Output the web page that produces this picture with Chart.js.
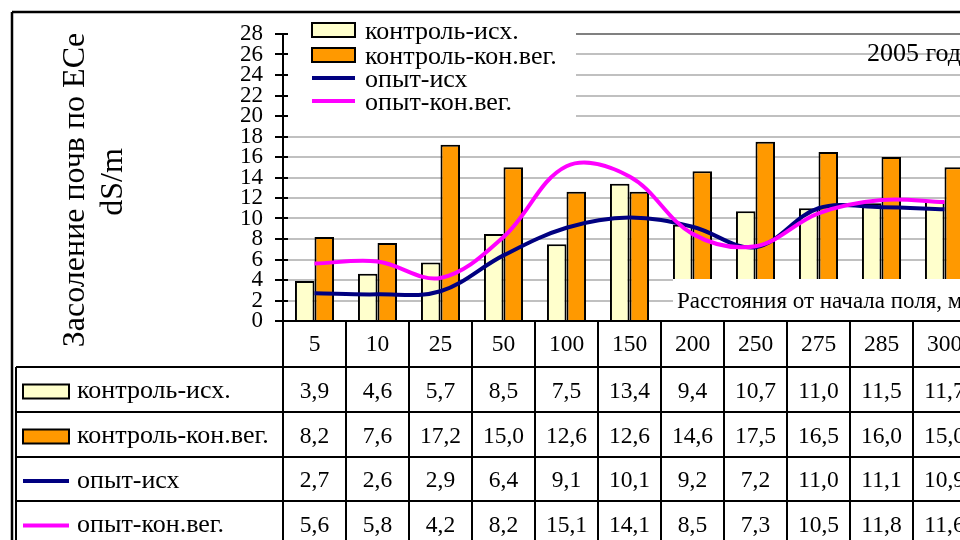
<!DOCTYPE html>
<html><head><meta charset="utf-8">
<script src="https://cdn.jsdelivr.net/npm/chart.js@4.4.1/dist/chart.umd.min.js"></script>
<style>
html,body{margin:0;padding:0;width:960px;height:540px;overflow:hidden;background:#fff;}
#wrap{position:absolute;left:0;top:0;width:1000px;height:540px;}
canvas{display:block;}
</style></head><body>
<div id="wrap"><canvas id="c" width="1000" height="540"></canvas></div>
<script>
// ---- data ----
const categories = ['5','10','25','50','100','150','200','250','275','285','300'];
const controlInitial = [3.9, 4.6, 5.7, 8.5, 7.5, 13.4, 9.4, 10.7, 11.0, 11.5, 11.7];
const controlEnd     = [8.2, 7.6, 17.2, 15.0, 12.6, 12.6, 14.6, 17.5, 16.5, 16.0, 15.0];
const trialInitial   = [2.7, 2.6, 2.9, 6.4, 9.1, 10.1, 9.2, 7.2, 11.0, 11.1, 10.9];
const trialEnd       = [5.6, 5.8, 4.2, 8.2, 15.1, 14.1, 8.5, 7.3, 10.5, 11.8, 11.6];
const seriesLabels = ['контроль-исх.', 'контроль-кон.вег.', 'опыт-исх', 'опыт-кон.вег.'];
const yTickValues = [0, 2, 4, 6, 8, 10, 12, 14, 16, 18, 20, 22, 24, 26, 28];
const yAxisTitle = ['Засоление почв по ECe', 'dS/m'];
const xAxisTitle = 'Расстояния от начала поля, м';
const yearNote = '2005 год';

const FONT = '"Liberation Serif", "Times New Roman", serif';
const COL_LIGHT = '#FFFFCC', COL_ORANGE = '#FF9900', COL_NAVY = '#000080', COL_MAGENTA = '#FF00FF';

const tableSeries = [
  {label: seriesLabels[0], data: controlInitial, kind: 'bar', color: COL_LIGHT},
  {label: seriesLabels[1], data: controlEnd, kind: 'bar', color: COL_ORANGE},
  {label: seriesLabels[2], data: trialInitial, kind: 'line', color: COL_NAVY},
  {label: seriesLabels[3], data: trialEnd, kind: 'line', color: COL_MAGENTA}
];

function seg(ctx, x1, y1, x2, y2) { ctx.beginPath(); ctx.moveTo(x1, y1); ctx.lineTo(x2, y2); ctx.stroke(); }
function swatch(ctx, s, x0, x1, cy) {
  if (s.kind === 'bar') {
    ctx.fillStyle = s.color; ctx.fillRect(x0, cy - 7, x1 - x0, 14);
    ctx.strokeStyle = '#000'; ctx.lineWidth = 2; ctx.strokeRect(x0, cy - 7, x1 - x0, 14);
  } else {
    ctx.strokeStyle = s.color; ctx.lineWidth = 4; seg(ctx, x0, cy, x1, cy);
  }
}
const fmt = v => v.toFixed(1).replace('.', ',');

const extras = {
  id: 'excelExtras',
  afterDatasetsDraw(chart) {
    const ctx = chart.ctx;
    ctx.save();
    ctx.fillStyle = '#fff';
    ctx.fillRect(285, 14, 291, 112);   // legend background
    ctx.fillRect(673, 279, 330, 41);   // axis title background
    ctx.restore();
  },
  afterDraw(chart) {
    const ctx = chart.ctx, x = chart.scales.x, y = chart.scales.y;
    const n = categories.length, colW = (x.right - x.left) / n;
    const top = y.bottom;
    ctx.save();
    ctx.lineCap = 'butt';

    // legend
    ctx.font = '26px ' + FONT; ctx.textAlign = 'left'; ctx.textBaseline = 'middle';
    const legY = [30, 55, 78, 101];
    tableSeries.forEach((s, i) => {
      swatch(ctx, s, 312, 355, legY[i]);
      ctx.fillStyle = '#000'; ctx.fillText(s.label, 365, legY[i] + 2);
    });

    // year note
    ctx.font = '26px ' + FONT; ctx.fillStyle = '#000'; ctx.fillText(yearNote, 867, 54);
    // x axis title
    ctx.font = '23px ' + FONT; ctx.fillText(xAxisTitle, 677, 302);

    // y tick crosses & axis line
    ctx.strokeStyle = '#000'; ctx.lineWidth = 2;
    yTickValues.forEach(v => { const py = Math.round(y.getPixelForValue(v)); seg(ctx, x.left - 8, py, x.left + 5, py); });
    seg(ctx, x.left, y.top - 1, x.left, top);
    seg(ctx, x.left - 8, top, 1000, top);

    // data table
    const rowEdges = [top, top + 46, top + 91, top + 136, top + 180, top + 225];
    for (let r = 1; r < rowEdges.length; r++) seg(ctx, 16, rowEdges[r], 1000, rowEdges[r]);
    for (let i = 0; i <= n; i++) { const px = Math.round(x.left + i * colW); seg(ctx, px, top, px, 540); }
    seg(ctx, 16, rowEdges[1], 16, 540);

    ctx.fillStyle = '#000'; ctx.textAlign = 'center'; ctx.textBaseline = 'middle';
    ctx.font = '23.5px ' + FONT;
    categories.forEach((c, i) => ctx.fillText(c, x.getPixelForValue(i), (rowEdges[0] + rowEdges[1]) / 2 + 1));
    tableSeries.forEach((s, r) => {
      const cy = (rowEdges[r + 1] + rowEdges[r + 2]) / 2 + 2;
      ctx.font = '23.5px ' + FONT;
      s.data.forEach((v, i) => { ctx.fillStyle = '#000'; ctx.textAlign = 'center'; ctx.fillText(fmt(v), x.getPixelForValue(i), cy); });
      swatch(ctx, s, 23, 69, cy);
      ctx.font = '26px ' + FONT;
      ctx.fillStyle = '#000'; ctx.textAlign = 'left'; ctx.fillText(s.label, 77, cy);
    });

    // chart border
    ctx.strokeStyle = '#000'; ctx.lineWidth = 2.5;
    seg(ctx, 12, 12, 1000, 12); seg(ctx, 12, 12, 12, 540);

    // y axis title (two lines, rotated)
    [[yAxisTitle[0], 76, 190], [yAxisTitle[1], 114, 182]].forEach(([t, tx, ty]) => {
      ctx.save();
      ctx.font = '32px ' + FONT; ctx.fillStyle = '#000'; ctx.textAlign = 'center'; ctx.textBaseline = 'middle';
      ctx.translate(tx, ty); ctx.rotate(-Math.PI / 2); ctx.fillText(t, 0, 0);
      ctx.restore();
    });

    ctx.restore();
  }
};

new Chart(document.getElementById('c'), {
  type: 'bar',
  data: {
    labels: categories,
    datasets: [
      {type: 'line', label: seriesLabels[3], data: trialEnd, borderColor: COL_MAGENTA, borderWidth: 4, pointRadius: 0, tension: 0.36, fill: false, order: 0},
      {type: 'line', label: seriesLabels[2], data: trialInitial, borderColor: COL_NAVY, borderWidth: 4, pointRadius: 0, tension: 0.36, fill: false, order: 1},
      {type: 'bar', label: seriesLabels[0], data: controlInitial, backgroundColor: COL_LIGHT, borderColor: '#000', borderWidth: 2, categoryPercentage: 0.62, barPercentage: 1.0, order: 2},
      {type: 'bar', label: seriesLabels[1], data: controlEnd, backgroundColor: COL_ORANGE, borderColor: '#000', borderWidth: 2, categoryPercentage: 0.62, barPercentage: 1.0, order: 2}
    ]
  },
  options: {
    responsive: false,
    animation: false,
    devicePixelRatio: 1,
    layout: {padding: {left: 203, right: 24, top: 34, bottom: 219}},
    plugins: {legend: {display: false}, tooltip: {enabled: false}},
    scales: {
      x: {type: 'category', display: false, offset: true},
      y: {
        min: 0, max: 28,
        afterBuildTicks: s => { s.ticks = yTickValues.map(v => ({value: v})); },
        afterFit: s => { s.width = 80; },
        ticks: {autoSkip: false, font: {family: FONT, size: 23}, color: '#000', padding: 20},
        grid: {drawTicks: false, lineWidth: 2, color: c => (c.tick && c.tick.value === 28) ? '#808080' : '#C0C0C0'},
        border: {color: '#000', width: 2}
      }
    }
  },
  plugins: [extras]
});
</script>
</body></html>
